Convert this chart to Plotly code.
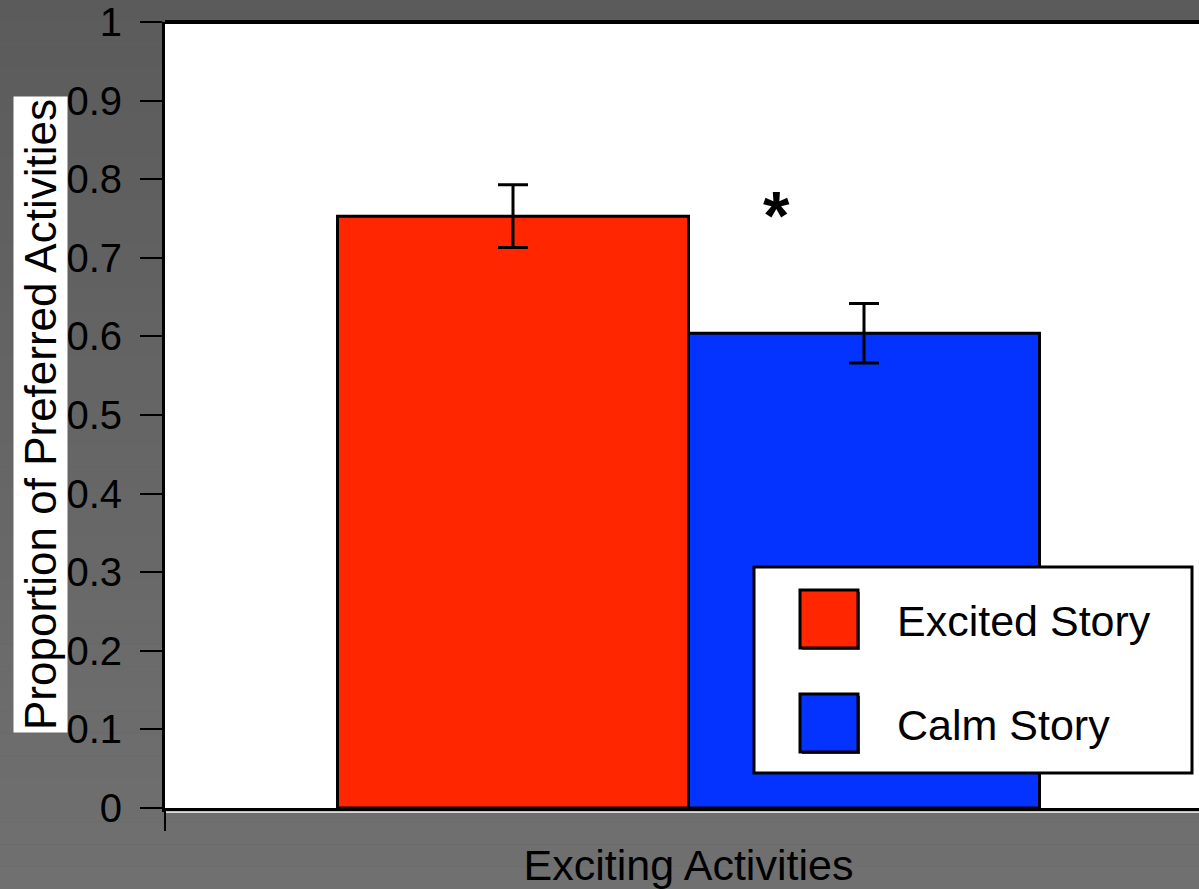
import plotly.graph_objects as go

# ---- data ----
conditions = ["Excited Story", "Calm Story"]
proportions = [0.753, 0.604]
sem = [0.040, 0.038]
bar_colors = ["#ff2600", "#0433ff"]
category_label = "Exciting Activities"
y_ticks = [0, 0.1, 0.2, 0.3, 0.4, 0.5, 0.6, 0.7, 0.8, 0.9, 1]
y_tick_text = ["0", "0.1", "0.2", "0.3", "0.4", "0.5", "0.6", "0.7", "0.8", "0.9", "1"]
y_title = "Proportion of Preferred Activities"

# ---- layout geometry (pixels) ----
W, H = 1199, 889
ML, MR, MT, MB = 165, 0, 22, 81
PW, PH = W - ML - MR, H - MT - MB
FONT = "Liberation Sans, Arial, sans-serif"


def px(x):
    return (x - ML) / PW


def py(y):
    return (H - MB - y) / PH


bar_px = 351.0
x_left = -348.0 / bar_px
x_right = x_left + PW / bar_px
xs = [0, 1]

fig = go.Figure()
for i, name in enumerate(conditions):
    fig.add_trace(go.Bar(
        x=[xs[i]], y=[proportions[i]], width=1.0, name=name,
        marker=dict(color=bar_colors[i], line=dict(color="black", width=3)),
        error_y=dict(type="data", array=[sem[i]], color="black", thickness=3, width=15),
        showlegend=False,
    ))

shapes = []
# gray backdrop with a soft vertical gradient
n_bands = 40
top_c, bot_c = 0x5b, 0x70
for k in range(n_bands):
    c = int(round(top_c + (bot_c - top_c) * k / (n_bands - 1)))
    shapes.append(dict(type="rect", xref="paper", yref="paper", layer="below",
                       x0=px(0), x1=px(W), y0=py(H * k / n_bands), y1=py(H * (k + 1) / n_bands),
                       fillcolor=f"rgb({c},{c},{c})", line=dict(width=0)))
shapes.append(dict(type="rect", xref="paper", yref="paper", layer="below",
                   x0=0, x1=1, y0=0, y1=1, fillcolor="white", line=dict(width=0)))
# top frame line
shapes.append(dict(type="line", xref="paper", yref="paper", x0=0, x1=1, y0=1, y1=1,
                   line=dict(color="black", width=4)))
# white rule under the x axis
shapes.append(dict(type="line", xref="paper", yref="paper", x0=px(166), x1=1,
                   y0=py(812), y1=py(812), line=dict(color="white", width=1.5)))
# left axis continuing below the baseline
shapes.append(dict(type="line", xref="paper", yref="paper", x0=0, x1=0,
                   y0=0, y1=py(831), line=dict(color="black", width=2)))

# legend box
shapes.append(dict(type="rect", xref="paper", yref="paper",
                   x0=px(754), x1=px(1192), y0=py(773), y1=py(567),
                   fillcolor="white", line=dict(color="black", width=3)))
annotations = []
swatch_tops = [590, 694]
for i, name in enumerate(conditions):
    t = swatch_tops[i]
    shapes.append(dict(type="rect", xref="paper", yref="paper",
                       x0=px(802), x1=px(860), y0=py(t + 60), y1=py(t + 2),
                       fillcolor=bar_colors[i], line=dict(width=0)))
    shapes.append(dict(type="rect", xref="paper", yref="paper",
                       x0=px(800), x1=px(858), y0=py(t + 58), y1=py(t),
                       fillcolor=bar_colors[i], line=dict(color="black", width=3)))
    annotations.append(dict(xref="paper", yref="paper", x=px(895), y=py(t + 31),
                            xanchor="left", yanchor="middle", showarrow=False,
                            text=name, font=dict(family=FONT, size=43, color="black")))

# significance marker
annotations.append(dict(xref="x", yref="y", x=0.75, y=0.755, showarrow=False,
                        text="<b>*</b>", font=dict(family=FONT, size=68, color="black"),
                        xanchor="center", yanchor="middle"))

# y-axis title on a white panel
annotations.append(dict(xref="paper", yref="paper", x=px(40), y=py(415),
                        textangle=-90, showarrow=False, text=y_title,
                        font=dict(family=FONT, size=44, color="black"),
                        bgcolor="white", borderpad=2,
                        xanchor="center", yanchor="middle"))

fig.update_layout(
    width=W, height=H,
    margin=dict(l=ML, r=MR, t=MT, b=MB, autoexpand=False),
    paper_bgcolor="#656565", plot_bgcolor="rgba(0,0,0,0)",
    shapes=shapes, annotations=annotations,
    barmode="overlay",
    xaxis=dict(range=[x_left, x_right], tickvals=[0.5], ticktext=[category_label],
               ticks="", showgrid=False, zeroline=False, showline=True,
               linecolor="black", linewidth=4, ticklabelstandoff=16, automargin=False,
               tickfont=dict(family=FONT, size=43, color="black")),
    yaxis=dict(range=[0, 1], tickvals=y_ticks, ticktext=y_tick_text,
               ticks="outside", ticklen=22, tickwidth=1.5, tickcolor="black",
               showgrid=False, zeroline=False, showline=True, automargin=False,
               ticklabeloverflow="allow",
               linecolor="black", linewidth=3, ticklabelstandoff=10,
               tickfont=dict(family=FONT, size=40, color="black")),
)

fig.write_html("out.html")
